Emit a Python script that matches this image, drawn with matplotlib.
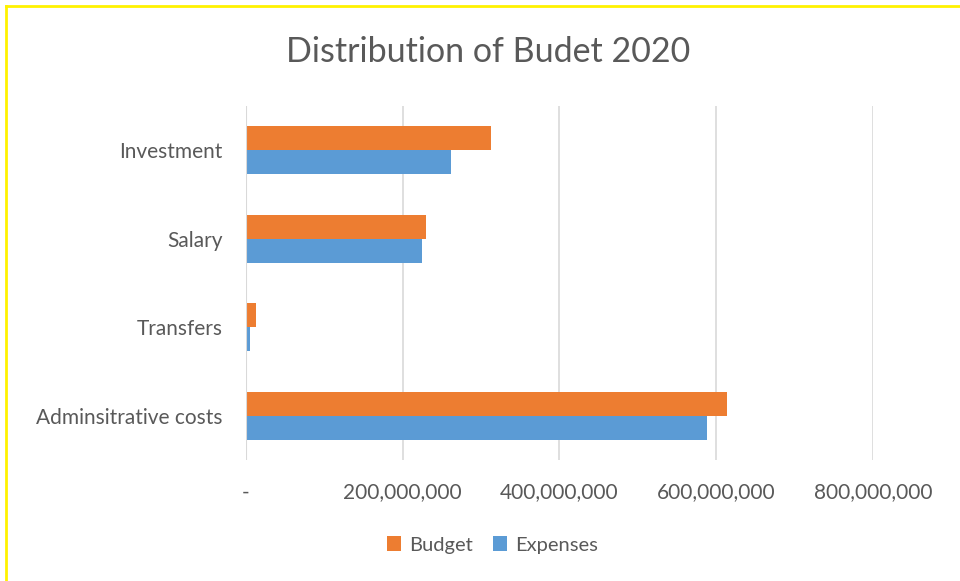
import numpy as np
import matplotlib.pyplot as plt
from matplotlib.ticker import FuncFormatter
from matplotlib.lines import Line2D

plt.rcParams['font.family'] = ['Lato', 'DejaVu Sans']

categories = ["Adminsitrative costs", "Transfers", "Salary", "Investment"]
budget = [614e6, 13e6, 230e6, 312e6]
expenses = [588e6, 5.5e6, 225e6, 261e6]

orange = "#ED7D31"
blue = "#5B9BD5"
grey = "#595959"

fig = plt.figure(figsize=(9.6, 5.81), dpi=100)
ax = fig.add_axes([246 / 960, 1 - 460 / 581, (873 - 246) / 960, (460 - 106) / 581])

y = np.arange(len(categories))
h = 0.27
ax.barh(y - h / 2, expenses, height=h, color=blue, label="Expenses", zorder=3)
ax.barh(y + h / 2, budget, height=h, color=orange, label="Budget", zorder=3)

ax.set_xlim(0, 800e6)
ax.set_ylim(-0.5, len(categories) - 0.5)
ax.set_xticks([0, 200e6, 400e6, 600e6, 800e6])
ax.xaxis.set_major_formatter(FuncFormatter(lambda v, p: "-" if v == 0 else f"{v:,.0f}"))
ax.set_yticks(y)
ax.set_yticklabels(categories)
ax.grid(axis="x", color="#D9D9D9", linewidth=1.2, zorder=0)
for s in ax.spines.values():
    s.set_visible(False)
ax.axvline(0, color="#D9D9D9", linewidth=1.5, zorder=4)
ax.tick_params(axis="both", length=0, labelsize=15, colors=grey)
ax.tick_params(axis="x", pad=16)
ax.tick_params(axis="y", pad=17)

fig.text(0.508, 1 - 52 / 581, "Distribution of Budet 2020", ha="center", va="center",
         fontsize=24.5, color=grey)

handles, labels = ax.get_legend_handles_labels()
leg = fig.legend(handles[::-1], labels[::-1], loc="center", bbox_to_anchor=(0.513, 1 - 545 / 581),
                 ncol=2, frameon=False, fontsize=14.5, handlelength=0.7, handleheight=0.7,
                 handletextpad=0.4, columnspacing=1.0)
for t in leg.get_texts():
    t.set_color(grey)

# yellow frame edges
fig.add_artist(Line2D([6 / 960, 6 / 960], [0, 1 - 6 / 581], color="#FFF200", linewidth=2))
fig.add_artist(Line2D([6 / 960, 1], [1 - 6 / 581, 1 - 6 / 581], color="#FFF200", linewidth=2))

fig.savefig("out.png", dpi=100)
